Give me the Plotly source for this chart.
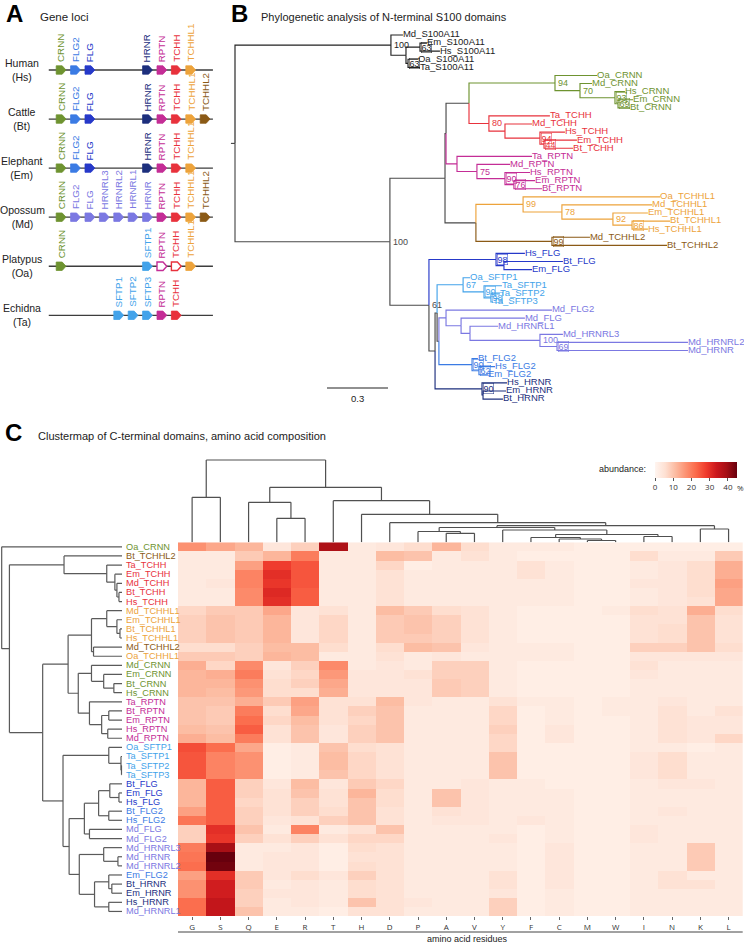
import plotly.graph_objects as go

W, H = 744, 944
FONT = "Liberation Sans, Arial, Helvetica, sans-serif"

# ---------------- colours by gene family ----------------
FAMILY_COLORS = {
    "S100": "#222222", "CRNN": "#6e9330", "TCHH": "#e8323c", "RPTN": "#c42d96",
    "TCHHL1": "#eda33b", "TCHHL2": "#8b5a16", "FLG": "#2639c9", "FLG2": "#3b7be4",
    "SFTP": "#43a3ea", "LAV": "#7b78e2", "HRNR": "#1d2f7d",
}
MIXED = "#4a4a4a"


def family(code, gene):
    if gene.startswith("S100"):
        return "S100"
    if gene.startswith("SFTP"):
        return "SFTP"
    if gene.startswith("HRNRL"):
        return "LAV"
    if code == "Md" and gene in ("FLG", "FLG2", "HRNR"):
        return "LAV"
    return gene


def label_family(label):
    code, gene = label.split("_", 1)
    return family(code, gene)


def label_color(label):
    return FAMILY_COLORS[label_family(label)]


# ---------------- Panel A data: gene loci ----------------
SPECIES = ["Human", "Cattle", "Elephant", "Opossum", "Platypus", "Echidna"]
SPECIES_CODES = ["Hs", "Bt", "Em", "Md", "Oa", "Ta"]
LOCUS_GENES = [
    ["CRNN", "FLG2", "FLG", "HRNR", "RPTN", "TCHH", "TCHHL1"],
    ["CRNN", "FLG2", "FLG", "HRNR", "RPTN", "TCHH", "TCHHL1", "TCHHL2"],
    ["CRNN", "FLG2", "FLG", "HRNR", "RPTN", "TCHH", "TCHHL1"],
    ["CRNN", "FLG2", "FLG", "HRNRL3", "HRNRL2", "HRNRL1", "HRNR", "RPTN", "TCHH", "TCHHL1", "TCHHL2"],
    ["CRNN", "SFTP1", "RPTN", "TCHH", "TCHHL1"],
    ["SFTP1", "SFTP2", "SFTP3", "RPTN", "TCHH"],
]
LOCUS_SLOTS = [
    [0, 1, 2, 6, 7, 8, 9],
    [0, 1, 2, 6, 7, 8, 9, 10],
    [0, 1, 2, 6, 7, 8, 9],
    [0, 1, 2, 3, 4, 5, 6, 7, 8, 9, 10],
    [0, 6, 7, 8, 9],
    [4, 5, 6, 7, 8],
]
LOCUS_OPEN = [[], [], [], [], ["RPTN", "TCHH"], []]

# ---------------- Panel B data: phylogeny (Newick, support, * = framed) ----------------
TREE_NEWICK = (
    "((Md_S100A11:0.059,((Em_S100A11:0.034,Hs_S100A11:0.098)63*:0.069,"
    "(Oa_S100A11:0.049,Ta_S100A11:0.059)63*:0.010):0.074)100:0.767,"
    "(((("
    "(Oa_CRNN:0.207,(Md_CRNN:0.059,(Hs_CRNN:0.049,(Em_CRNN:0.074,Bt_CRNN:0.059)69*:0.015)93*:0.172)70:0.123)94:0.423,"
    "(Ta_TCHH:0.300,(Md_TCHH:0.133,(Hs_TCHH:0.123,(Em_TCHH:0.162,Bt_TCHH:0.143)44*:0.020)94*:0.172):0.079)80:0.098"
    "):0.113,"
    "(Ta_RPTN:0.369,(Md_RPTN:0.163,(Hs_RPTN:0.123,(Em_RPTN:0.104,Bt_RPTN:0.138)76*:0.044)90*:0.138)75:0.098):0.054"
    "):0.005,"
    "((Oa_TCHHL1:0.674,(Md_TCHHL1:0.443,(Em_TCHHL1:0.172,(Bt_TCHHL1:0.187,Hs_TCHHL1:0.078)86*:0.094)92:0.251)78:0.191)99:0.232,"
    "(Md_TCHHL2:0.187,Bt_TCHHL2:0.566)99*:0.374):0.152"
    "):0.271,"
    "((Hs_FLG:0.142,(Bt_FLG:0.290,Em_FLG:0.138):0.039)98*:0.330,"
    "(((Oa_SFTP1:0.034,(Ta_SFTP1:0.088,(Ta_SFTP2:0.044,Ta_SFTP3:0.010)98*:0.034)90*:0.103)67:0.128,"
    "((Md_FLG2:0.521,(Md_FLG:0.314,(Md_HRNRL1:0.138,(Md_HRNRL3:0.113,(Md_HRNRL2:0.644,Md_HRNR:0.644)69*:0.084)100:0.344):0.044):0.074):0.035,"
    "(Bt_FLG2:0.029,(Hs_FLG2:0.079,Em_FLG2:0.044)62*:0.034)90*:0.163):0.009):0.010,"
    "(Hs_HRNR:0.123,(Em_HRNR:0.113,Bt_HRNR:0.098):0.005)90*:0.231):0.030)61:0.192"
    ")100:0.762);"
)
SCALE_BAR_LENGTH = 0.3

# ---------------- Panel C data: amino acid composition (%) ----------------
AMINO_ACIDS = ["G", "S", "Q", "E", "R", "T", "H", "D", "P", "A",
               "V", "Y", "F", "C", "M", "W", "I", "N", "K", "L"]
ROWS = ["Oa_CRNN", "Bt_TCHHL2", "Ta_TCHH", "Em_TCHH", "Md_TCHH", "Bt_TCHH", "Hs_TCHH",
        "Md_TCHHL1", "Em_TCHHL1", "Bt_TCHHL1", "Hs_TCHHL1", "Md_TCHHL2", "Oa_TCHHL1",
        "Md_CRNN", "Em_CRNN", "Bt_CRNN", "Hs_CRNN", "Ta_RPTN", "Bt_RPTN", "Em_RPTN",
        "Hs_RPTN", "Md_RPTN", "Oa_SFTP1", "Ta_SFTP1", "Ta_SFTP2", "Ta_SFTP3", "Bt_FLG",
        "Em_FLG", "Hs_FLG", "Bt_FLG2", "Hs_FLG2", "Md_FLG", "Md_FLG2", "Md_HRNRL3",
        "Md_HRNR", "Md_HRNRL2", "Em_FLG2", "Bt_HRNR", "Em_HRNR", "Hs_HRNR", "Md_HRNRL1"]
COMPOSITION = [
    [17, 14, 12, 4, 8, 38, 3, 4, 6, 12, 6, 3, 3, 3, 2, 2, 2, 2, 2, 2],
    [3, 3, 9, 12, 20, 3, 3, 11, 10, 3, 5, 3, 2, 2, 2, 2, 6, 3, 3, 9],
    [3, 3, 15, 28, 25, 3, 3, 7, 2, 3, 3, 3, 5, 3, 2, 2, 3, 4, 6, 13],
    [3, 3, 19, 30, 25, 3, 3, 5, 3, 3, 3, 3, 5, 3, 2, 2, 3, 4, 6, 13],
    [3, 4, 19, 29, 25, 3, 3, 5, 3, 3, 3, 3, 3, 3, 2, 2, 4, 4, 6, 15],
    [3, 3, 18, 31, 24, 3, 3, 5, 3, 3, 3, 3, 3, 3, 2, 2, 3, 4, 6, 14],
    [3, 3, 18, 30, 24, 3, 3, 5, 3, 3, 3, 3, 3, 3, 2, 2, 3, 4, 5, 14],
    [7, 9, 9, 14, 4, 5, 3, 11, 9, 6, 5, 3, 2, 2, 2, 3, 6, 5, 13, 6],
    [8, 10, 9, 12, 4, 7, 3, 9, 10, 8, 5, 3, 2, 2, 2, 2, 5, 5, 10, 5],
    [8, 10, 9, 12, 4, 7, 3, 9, 10, 8, 5, 3, 2, 2, 2, 2, 5, 6, 10, 5],
    [8, 10, 9, 12, 4, 7, 3, 9, 9, 8, 5, 3, 2, 2, 2, 2, 5, 6, 10, 5],
    [6, 6, 8, 11, 11, 6, 3, 6, 11, 10, 4, 3, 3, 3, 2, 2, 8, 8, 10, 6],
    [9, 9, 8, 12, 11, 3, 3, 5, 3, 4, 3, 3, 3, 3, 2, 2, 4, 4, 4, 4],
    [13, 7, 18, 4, 8, 18, 3, 4, 3, 8, 8, 3, 2, 2, 2, 2, 5, 3, 3, 3],
    [12, 13, 20, 5, 7, 16, 4, 4, 5, 8, 8, 3, 2, 2, 2, 2, 4, 3, 3, 3],
    [12, 12, 17, 6, 8, 14, 4, 4, 4, 9, 8, 3, 2, 2, 2, 2, 3, 3, 3, 3],
    [12, 11, 16, 6, 6, 13, 4, 4, 4, 9, 8, 3, 2, 2, 2, 2, 3, 3, 3, 3],
    [10, 10, 13, 9, 15, 5, 5, 11, 4, 3, 3, 5, 3, 3, 2, 3, 3, 4, 3, 3],
    [10, 9, 20, 6, 14, 5, 8, 10, 3, 3, 3, 7, 2, 3, 2, 3, 3, 5, 3, 5],
    [10, 9, 22, 7, 11, 5, 7, 10, 3, 3, 3, 7, 2, 3, 2, 2, 3, 5, 4, 4],
    [11, 10, 24, 5, 10, 4, 8, 10, 3, 3, 3, 8, 2, 4, 2, 2, 3, 5, 4, 4],
    [13, 11, 20, 5, 10, 4, 8, 10, 3, 3, 3, 7, 2, 4, 2, 2, 3, 5, 4, 7],
    [26, 22, 14, 2, 3, 10, 6, 5, 3, 3, 3, 7, 2, 2, 2, 2, 3, 3, 2, 3],
    [25, 19, 17, 2, 3, 11, 7, 5, 3, 3, 3, 10, 2, 2, 2, 2, 4, 6, 3, 3],
    [25, 19, 17, 2, 3, 11, 7, 5, 3, 3, 3, 10, 2, 2, 2, 2, 4, 6, 3, 3],
    [25, 19, 17, 2, 3, 10, 7, 5, 3, 3, 3, 10, 2, 2, 2, 2, 4, 6, 3, 3],
    [12, 24, 8, 4, 11, 4, 9, 7, 3, 3, 4, 3, 3, 2, 2, 2, 3, 4, 4, 3],
    [12, 24, 8, 5, 10, 5, 12, 6, 3, 10, 4, 3, 3, 3, 2, 2, 3, 3, 3, 3],
    [12, 24, 7, 5, 8, 5, 10, 6, 3, 10, 4, 3, 3, 3, 2, 2, 3, 3, 3, 3],
    [15, 24, 8, 5, 8, 6, 10, 5, 3, 5, 4, 3, 3, 3, 2, 2, 3, 4, 3, 3],
    [21, 24, 8, 4, 5, 8, 10, 5, 3, 4, 4, 3, 4, 3, 2, 2, 3, 3, 3, 3],
    [8, 30, 10, 3, 19, 3, 5, 10, 3, 3, 3, 3, 2, 3, 2, 2, 4, 3, 3, 3],
    [8, 29, 8, 5, 8, 5, 7, 7, 3, 3, 3, 4, 2, 3, 2, 2, 4, 3, 3, 3],
    [20, 39, 3, 3, 4, 2, 6, 5, 3, 3, 3, 3, 2, 4, 2, 2, 3, 3, 9, 3],
    [21, 45, 3, 4, 4, 2, 5, 5, 3, 3, 3, 3, 2, 4, 2, 2, 3, 3, 9, 3],
    [22, 44, 3, 4, 4, 2, 6, 5, 3, 3, 3, 3, 2, 4, 2, 2, 3, 3, 9, 3],
    [15, 30, 9, 4, 6, 4, 8, 5, 3, 3, 3, 5, 2, 4, 2, 2, 3, 5, 3, 3],
    [17, 33, 9, 3, 4, 3, 6, 5, 3, 3, 3, 5, 2, 4, 2, 2, 3, 5, 5, 3],
    [17, 33, 8, 4, 4, 3, 6, 5, 3, 3, 3, 4, 2, 3, 2, 2, 3, 3, 3, 3],
    [22, 35, 8, 3, 4, 3, 10, 5, 4, 3, 3, 8, 2, 3, 2, 2, 3, 3, 3, 3],
    [22, 35, 10, 3, 3, 2, 5, 5, 3, 3, 3, 8, 2, 3, 2, 2, 3, 3, 3, 3],
]
# linkage trees (height, left, right)
ROW_TREE = (118.3, "Oa_CRNN",
            (110.7,
             (57, "Bt_TCHHL2", (15, "Ta_TCHH", (7, "Em_TCHH", (5, "Md_TCHH", (3, "Bt_TCHH", "Hs_TCHH"))))),
             (78,
              (53,
               (30, (15, "Md_TCHHL1", (5, "Em_TCHHL1", (2, "Bt_TCHHL1", "Hs_TCHHL1"))),
                (28, "Md_TCHHL2", "Oa_TCHHL1")),
               (43, (30, "Md_CRNN", (18, "Em_CRNN", (8, "Bt_CRNN", "Hs_CRNN"))),
                (32, "Ta_RPTN", (20, (13, "Bt_RPTN", "Em_RPTN"), (14, "Hs_RPTN", "Md_RPTN"))))),
              (58,
               (13, "Oa_SFTP1", (1, "Ta_SFTP1", (0.5, "Ta_SFTP2", "Ta_SFTP3"))),
               (52,
                (37, (23, (12, "Bt_FLG", (3, "Em_FLG", "Hs_FLG")), (13, "Bt_FLG2", "Hs_FLG2")),
                 (32, "Md_FLG", "Md_FLG2")),
                (42, (18, "Md_HRNRL3", (4, "Md_HRNR", "Md_HRNRL2")),
                 (27, (13, "Em_FLG2", (10, "Bt_HRNR", "Em_HRNR")), (13, "Hs_HRNR", "Md_HRNRL1"))))))))
COL_TREE = (82.3, (45, "G", "S"),
            (55, (40, "Q", (24, "E", "R")),
             (41.6, "T", (28, "H", (19.6, "D",
                                    (16.6, (14.8, (10.8, "P", (9, "A", "V")),
                                            (12.3, "Y", (7.8, (4.8, "F", (3.3, "C", (1.8, "M", "W"))),
                                                         (5.8, "I", "N")))),
                                     (13.3, "K", "L")))))))


# ---------------- helpers ----------------
def pxx(p):
    return p / W


def pxy(p):
    return 1 - p / H


def parse_newick(s):
    s = s.strip().rstrip(";")
    pos = [0]

    def node():
        n = {"children": [], "label": "", "length": 0.0}
        if s[pos[0]] == "(":
            pos[0] += 1
            while True:
                n["children"].append(node())
                c = s[pos[0]]
                pos[0] += 1
                if c == ")":
                    break
        start = pos[0]
        while pos[0] < len(s) and s[pos[0]] not in ",()":
            pos[0] += 1
        tok = s[start:pos[0]]
        if ":" in tok:
            lab, ln = tok.split(":")
            n["label"], n["length"] = lab, float(ln)
        else:
            n["label"] = tok
        return n

    return node()


fig = go.Figure()
annotations = []
shapes = []

# ================= Panel A =================
A_X0, A_DX = 61.0, 14.4     # px of slot 0, px per slot
A_Y0, A_DY = 70.0, 49.06    # px of row 0, px per row
lx, ly = [], []
for r, sp in enumerate(SPECIES):
    lx += [-0.85, 10.55, None]
    ly += [r, r, None]
fig.add_trace(go.Scatter(x=lx, y=ly, mode="lines", line=dict(color="#3d3d3d", width=1.3),
                         xaxis="x", yaxis="y", hoverinfo="skip"))
for r, (sp, code) in enumerate(zip(SPECIES, SPECIES_CODES)):
    annotations.append(dict(x=pxx(22), y=r, xref="paper", yref="y", text=f"{sp}<br>({code})",
                            showarrow=False, xanchor="center", yanchor="middle",
                            font=dict(size=10.5, color="#222", family=FONT)))
    for gene, slot in zip(LOCUS_GENES[r], LOCUS_SLOTS[r]):
        col = FAMILY_COLORS[family(code, gene)]
        is_open = gene in LOCUS_OPEN[r]
        hh = 4.2 / A_DY
        xl, xs, xt = slot - 4.8 / A_DX, slot + 1.2 / A_DX, slot + 5.0 / A_DX
        path = (f"M {xl},{r - hh} L {xs},{r - hh} L {xt},{r} L {xs},{r + hh} "
                f"L {xl},{r + hh} Z")
        shapes.append(dict(type="path", path=path, xref="x", yref="y",
                           fillcolor="white" if is_open else col,
                           line=dict(color=col, width=1.4 if is_open else 0.8)))
        annotations.append(dict(x=slot, y=r, xref="x", yref="y", text=gene, textangle=-90,
                                showarrow=False, xanchor="center", yanchor="bottom", yshift=6,
                                font=dict(size=9.8, color=col, family=FONT)))

# ================= Panel B =================
B_X0, B_SC = 235.0, 203.3   # px of root, px per substitution
B_Y0, B_DY = 35.0, 8.09     # px of first leaf, px per leaf
root = parse_newick(TREE_NEWICK)
leaves = []


def layout_tree(n, depth):
    n["depth"] = depth + n["length"]
    if not n["children"]:
        n["y"] = len(leaves)
        leaves.append(n)
        n["fams"] = {label_family(n["label"])}
    else:
        for c in n["children"]:
            layout_tree(c, n["depth"])
        n["y"] = (n["children"][0]["y"] + n["children"][-1]["y"]) / 2
        n["fams"] = set().union(*[c["fams"] for c in n["children"]])
    n["color"] = FAMILY_COLORS[next(iter(n["fams"]))] if len(n["fams"]) == 1 else MIXED


root["length"] = 0.0
layout_tree(root, 0.0)
segs = {}


def collect(n):
    for c in n["children"]:
        sx, sy = segs.setdefault(c["color"], ([], []))
        sx += [n["depth"], n["depth"], c["depth"], None]
        sy += [n["y"], c["y"], c["y"], None]
        collect(c)
        if c["children"] and c["label"]:
            txt = c["label"].rstrip("*")
            boxed = c["label"].endswith("*")
            ann = dict(x=c["depth"], y=c["y"], xref="x2", yref="y2", text=txt, showarrow=False,
                       xanchor="left", yanchor="middle", xshift=1,
                       font=dict(size=9, color=c["color"], family=FONT))
            if boxed:
                ann.update(bordercolor=c["color"], borderwidth=0.5, borderpad=0)
            annotations.append(ann)


collect(root)
sx, sy = segs.setdefault(MIXED, ([], []))
sx += [-0.02, 0.0, None]
sy += [root["y"], root["y"], None]
for col, (sx, sy) in segs.items():
    fig.add_trace(go.Scatter(x=sx, y=sy, mode="lines", line=dict(color=col, width=1.15),
                             xaxis="x2", yaxis="y2", hoverinfo="skip"))
fig.add_trace(go.Scatter(x=[l["depth"] for l in leaves], y=[l["y"] for l in leaves],
                         text=[l["label"] for l in leaves], mode="text",
                         textposition="middle right",
                         textfont=dict(size=9.5, family=FONT,
                                       color=[label_color(l["label"]) for l in leaves]),
                         xaxis="x2", yaxis="y2", hoverinfo="skip", cliponaxis=False))
# scale bar
sb_x0 = (327 - B_X0) / B_SC
sb_y = (388 - B_Y0) / B_DY
fig.add_trace(go.Scatter(x=[sb_x0, sb_x0 + SCALE_BAR_LENGTH], y=[sb_y, sb_y], mode="lines",
                         line=dict(color="#222", width=1.2), xaxis="x2", yaxis="y2",
                         hoverinfo="skip"))
annotations.append(dict(x=sb_x0 + SCALE_BAR_LENGTH / 2, y=sb_y, xref="x2", yref="y2",
                        text=str(SCALE_BAR_LENGTH), showarrow=False, yanchor="top", yshift=-3,
                        font=dict(size=9.5, color="#222", family=FONT)))

# ================= Panel C =================
HM_L, HM_R, HM_T, HM_B = 178.0, 742.7, 542.3, 916.0
fig.add_trace(go.Heatmap(
    z=COMPOSITION, x=list(range(len(AMINO_ACIDS))), y=list(range(len(ROWS))),
    xaxis="x3", yaxis="y3", zmin=0, zmax=45,
    colorscale=[[0, "#fff5f0"], [0.125, "#fee0d2"], [0.25, "#fcbba1"], [0.375, "#fc9272"],
                [0.5, "#fb6a4a"], [0.625, "#ef3b2c"], [0.75, "#cb181d"], [0.875, "#a50f15"],
                [1, "#67000d"]],
    colorbar=dict(orientation="h", x=pxx(696), xanchor="center", y=pxy(462), yanchor="top",
                  len=82, lenmode="pixels", thickness=16, thicknessmode="pixels",
                  xpad=0, ypad=0,
                  tickvals=[0, 10, 20, 30, 40], ticks="outside", ticklen=3, tickcolor="#555",
                  tickfont=dict(size=8, color="#333", family="Open Sans"), outlinewidth=0),
    hoverinfo="skip"))


def dendro(tree, pos):
    if isinstance(tree, str):
        return pos[tree], 0.0, []
    h, left, right = tree
    pl, hl, sl = dendro(left, pos)
    pr, hr, sr = dendro(right, pos)
    return (pl + pr) / 2, h, sl + sr + [(pl, hl, pl, h), (pl, h, pr, h), (pr, h, pr, hr)]


def leaf_order(tree):
    if isinstance(tree, str):
        return [tree]
    return leaf_order(tree[1]) + leaf_order(tree[2])


assert leaf_order(ROW_TREE) == ROWS
assert leaf_order(COL_TREE) == AMINO_ACIDS

# column dendrogram
_, _, csegs = dendro(COL_TREE, {a: i for i, a in enumerate(AMINO_ACIDS)})
cx, cy = [], []
for p0, h0, p1, h1 in csegs:
    cx += [p0, p1, None]
    cy += [h0, h1, None]
fig.add_trace(go.Scatter(x=cx, y=cy, mode="lines", line=dict(color="#505050", width=1.2),
                         xaxis="x3", yaxis="y4", hoverinfo="skip"))
# row dendrogram
_, _, rsegs = dendro(ROW_TREE, {r: i for i, r in enumerate(ROWS)})
rx, ry = [], []
for p0, h0, p1, h1 in rsegs:
    rx += [h0, h1, None]
    ry += [p0, p1, None]
fig.add_trace(go.Scatter(x=rx, y=ry, mode="lines", line=dict(color="#5a5a5a", width=1.2),
                         xaxis="x5", yaxis="y3", hoverinfo="skip"))
for i, r in enumerate(ROWS):
    annotations.append(dict(x=pxx(124), y=i, xref="paper", yref="y3", text=r, showarrow=False,
                            xanchor="left", yanchor="middle",
                            font=dict(size=9.2, color=label_color(r), family=FONT)))

# titles
annotations += [
    dict(x=pxx(4), y=pxy(14), xref="paper", yref="paper", text="<b>A</b>", showarrow=False,
         xanchor="left", yanchor="middle", font=dict(size=24, color="#000", family=FONT)),
    dict(x=pxx(38), y=pxy(17), xref="paper", yref="paper", text="Gene loci", showarrow=False,
         xanchor="left", yanchor="middle", font=dict(size=11.5, color="#222", family=FONT)),
    dict(x=pxx(229), y=pxy(14), xref="paper", yref="paper", text="<b>B</b>", showarrow=False,
         xanchor="left", yanchor="middle", font=dict(size=24, color="#000", family=FONT)),
    dict(x=pxx(259), y=pxy(17), xref="paper", yref="paper",
         text="Phylogenetic analysis of N-terminal S100 domains", showarrow=False,
         xanchor="left", yanchor="middle", font=dict(size=11, color="#222", family=FONT)),
    dict(x=pxx(3), y=pxy(432), xref="paper", yref="paper", text="<b>C</b>", showarrow=False,
         xanchor="left", yanchor="middle", font=dict(size=24, color="#000", family=FONT)),
    dict(x=pxx(36), y=pxy(436), xref="paper", yref="paper",
         text="Clustermap of C-terminal domains, amino acid composition", showarrow=False,
         xanchor="left", yanchor="middle", font=dict(size=11, color="#222", family=FONT)),
    dict(x=pxx(648), y=pxy(469), xref="paper", yref="paper", text="abundance:", showarrow=False,
         xanchor="right", yanchor="middle", font=dict(size=9, color="#222", family=FONT)),
    dict(x=pxx(740.5), y=pxy(488), xref="paper", yref="paper", text="%", showarrow=False,
         xanchor="center", yanchor="middle", font=dict(size=8, color="#333", family="Open Sans")),
    dict(x=pxx(467), y=pxy(939), xref="paper", yref="paper", text="amino acid residues",
         showarrow=False, xanchor="center", yanchor="middle",
         font=dict(size=9, color="#222", family=FONT)),
]
shapes.append(dict(type="line", xref="paper", yref="paper", x0=pxx(HM_L), x1=pxx(HM_R),
                   y0=pxy(932), y1=pxy(932), line=dict(color="#444", width=1)))

hidden = dict(visible=False, showgrid=False, zeroline=False, fixedrange=True)
fig.update_layout(
    width=W, height=H, margin=dict(l=0, r=0, t=0, b=0), showlegend=False,
    paper_bgcolor="white", plot_bgcolor="white",
    font=dict(family=FONT),
    xaxis=dict(hidden, domain=[0, pxx(230)], range=[-A_X0 / A_DX, (230 - A_X0) / A_DX]),
    yaxis=dict(hidden, domain=[pxy(340), pxy(25)],
               range=[(340 - A_Y0) / A_DY, (25 - A_Y0) / A_DY]),
    xaxis2=dict(hidden, domain=[pxx(230), 1], range=[(230 - B_X0) / B_SC, (744 - B_X0) / B_SC],
                anchor="y2"),
    yaxis2=dict(hidden, domain=[pxy(410), pxy(25)],
                range=[(410 - B_Y0) / B_DY, (25 - B_Y0) / B_DY], anchor="x2"),
    xaxis3=dict(domain=[pxx(HM_L), pxx(HM_R)], range=[-0.5, len(AMINO_ACIDS) - 0.5],
                tickvals=list(range(len(AMINO_ACIDS))), ticktext=AMINO_ACIDS,
                ticks="outside", ticklen=3, tickcolor="#666", tickwidth=1,
                tickfont=dict(size=8, color="#333", family="Open Sans"),
                showgrid=False, zeroline=False, showline=False, anchor="y3", fixedrange=True),
    yaxis3=dict(hidden, domain=[pxy(HM_B), pxy(HM_T)], range=[len(ROWS) - 0.5, -0.5],
                anchor="x3"),
    yaxis4=dict(hidden, domain=[pxy(HM_T), pxy(445)], range=[0, HM_T - 445], anchor="x3"),
    xaxis5=dict(hidden, domain=[0, pxx(HM_L)], range=[122 / 1.017, (122 - HM_L) / 1.017],
                anchor="y3"),
    annotations=annotations, shapes=shapes,
)

fig.write_html("out.html", config={"displayModeBar": False},
               post_script="document.body.style.margin='0px';document.body.style.padding='0px';")
